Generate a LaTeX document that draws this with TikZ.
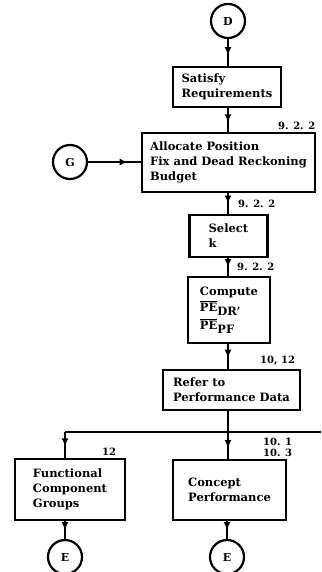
\documentclass[tikz,border=0pt]{standalone}
\usepackage{fontspec}
\setmainfont{DejaVu Serif}
\usetikzlibrary{arrows.meta,decorations.markings}

\newcommand{\pebar}{\leavevmode\vbox{\hrule height 0.9pt\kern1.2pt\hbox{PE}}}

\tikzset{
  block/.style={rectangle, draw=black, line width=2.2pt, align=left, inner sep=0pt,
    font=\bfseries\fontsize{11.5}{15}\selectfont},
  link/.style={circle, draw=black, line width=2.2pt, minimum size=34pt, inner sep=0pt,
    font=\bfseries\fontsize{11}{12}\selectfont},
  flow/.style={line width=1.8pt, postaction={decorate},
    decoration={markings, mark=at position #1 with {\arrow{Latex[length=8pt,width=7pt]}}}},
  flow/.default=0.6,
  tag/.style={anchor=base west, inner sep=0pt, font=\bfseries\fontsize{10}{11}\selectfont},
}

\begin{document}
\begin{tikzpicture}[x=1pt, y=1pt]
\useasboundingbox (0,0) rectangle (321,-572);

% main column
\node[link] (D) at (228,-21) {D};
\node[block, minimum width=108pt, minimum height=40pt] (satisfy) at (227,-87) {Satisfy\\Requirements};
\node[block, minimum width=173pt, minimum height=59pt] (budget) at (228.5,-162.5) {Allocate Position\\Fix and Dead Reckoning\\Budget};
\node[link] (G) at (70,-162) {G};
\node[block, minimum width=78pt, minimum height=42pt] (selk) at (228.5,-236) {Select\\k};
\node[block, minimum width=82pt, minimum height=66pt] (compute) at (229,-310) {Compute\\[1pt]\pebar\raisebox{-4pt}{DR'}\\[3pt]\pebar\raisebox{-4pt}{PF}};
\node[block, minimum width=137pt, minimum height=40pt] (refer) at (231.5,-390) {Refer to\\Performance Data};

% branches
\node[block, minimum width=110pt, minimum height=61pt] (groups) at (70,-489.5) {Functional\\Component\\Groups};
\node[block, minimum width=113pt, minimum height=60pt] (concept) at (229.5,-490) {Concept\\Performance};
\node[link] (E1) at (65,-557) {E};
\node[link] (E2) at (227,-557) {E};

\coordinate (split) at (228,-432);
\coordinate (rightend) at (321,-432);

\draw[flow] (D) -- (D |- satisfy.north);
\draw[flow=0.6] (satisfy.south -| D) -- (budget.north -| D);
\draw[flow=0.75] (G) -- (G -| budget.west);
\draw[flow=0.5] (budget.south -| D) -- (selk.north -| D);
\draw[flow=0.5] (selk.south -| D) -- (compute.north -| D);
\draw[flow=0.55] (compute.south -| D) -- (refer.north -| D);
\draw[line width=1.8pt] (refer.south -| D) -- (split);
\draw[line width=1.8pt] (E1 |- split) -- (rightend);
\draw[flow=0.6] (split) -- (concept.north -| split);
\draw[flow=0.55] (E1 |- split) -- (E1 |- groups.north);
\draw[flow=0.5] (E1 |- groups.south) -- (E1);
\draw[flow=0.5] (E2 |- concept.south) -- (E2);

% section references
\node[tag] (t1) at (278,-130) {9. 2. 2};
\node[tag] (t2) at (238,-207) {9. 2. 2};
\node[tag] (t3) at (237,-270) {9. 2. 2};
\node[tag] (t4) at (260,-363) {10, 12};
\node[tag] (t5) at (263,-445) {10. 1};
\node[tag] (t6) at (263,-456) {10. 3};
\node[tag] (t7) at (102,-455) {12};
\end{tikzpicture}
\end{document}
